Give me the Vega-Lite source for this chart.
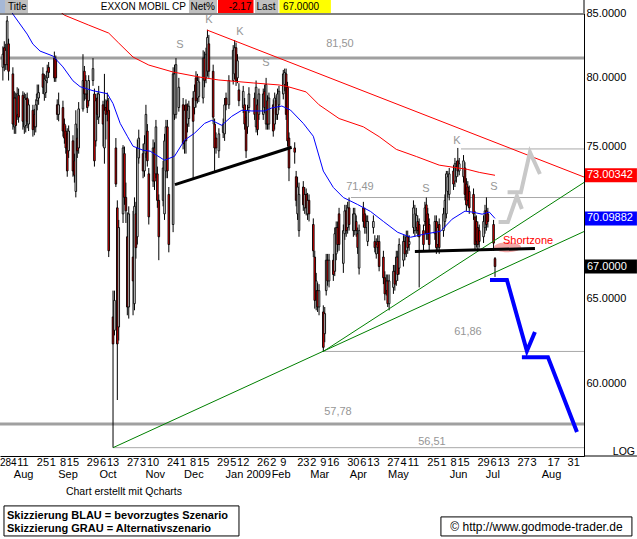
{
"$schema": "https://vega.github.io/schema/vega-lite/v6.json",
"width": 584, "height": 443,
"autosize": {"type": "none"},
"padding": {"left": 0, "top": 13, "right": 53, "bottom": 83},
"background": "white",
"config": {"view": {"stroke": null}, "font": "Liberation Sans", "text": {"font": "Liberation Sans", "fontSize": 11}},
"datasets": {
"px": [
{"d":"2008-07-28","o":80.8,"h":82.4,"l":79.8,"c":81.8},
{"d":"2008-07-29","o":82.3,"h":82.8,"l":80.5,"c":81.0},
{"d":"2008-07-30","o":81.0,"h":82.6,"l":80.6,"c":82.1},
{"d":"2008-07-31","o":81.0,"h":84.8,"l":80.6,"c":84.4},
{"d":"2008-08-01","o":82.6,"h":83.0,"l":79.8,"c":80.5},
{"d":"2008-08-04","o":80.3,"h":80.8,"l":76.2,"c":76.6},
{"d":"2008-08-05","o":76.4,"h":79.0,"l":75.9,"c":78.5},
{"d":"2008-08-06","o":78.5,"h":78.9,"l":75.9,"c":76.5},
{"d":"2008-08-07","o":77.3,"h":79.3,"l":76.9,"c":78.8},
{"d":"2008-08-08","o":78.7,"h":79.2,"l":76.7,"c":77.1},
{"d":"2008-08-11","o":78.7,"h":79.0,"l":76.2,"c":76.8},
{"d":"2008-08-12","o":76.4,"h":78.9,"l":75.9,"c":78.5},
{"d":"2008-08-13","o":76.5,"h":78.8,"l":76.0,"c":78.4},
{"d":"2008-08-14","o":78.5,"h":78.9,"l":76.3,"c":76.8},
{"d":"2008-08-15","o":76.6,"h":78.4,"l":76.1,"c":78.0},
{"d":"2008-08-18","o":77.6,"h":78.0,"l":75.7,"c":76.2},
{"d":"2008-08-19","o":77.3,"h":77.7,"l":75.8,"c":76.4},
{"d":"2008-08-20","o":76.4,"h":78.4,"l":76.0,"c":78.0},
{"d":"2008-08-21","o":78.3,"h":79.5,"l":77.6,"c":78.8},
{"d":"2008-08-22","o":78.5,"h":79.5,"l":78.0,"c":78.9},
{"d":"2008-08-25","o":80.3,"h":80.8,"l":78.8,"c":79.3},
{"d":"2008-08-26","o":78.8,"h":80.3,"l":78.3,"c":79.9},
{"d":"2008-08-27","o":78.9,"h":80.2,"l":78.5,"c":79.8},
{"d":"2008-08-28","o":80.0,"h":81.0,"l":79.6,"c":80.5},
{"d":"2008-08-29","o":80.8,"h":81.2,"l":80.0,"c":80.4},
{"d":"2008-09-02","o":81.5,"h":82.0,"l":79.7,"c":80.0},
{"d":"2008-09-03","o":81.4,"h":81.7,"l":79.7,"c":80.0},
{"d":"2008-09-04","o":78.0,"h":78.4,"l":76.9,"c":77.3},
{"d":"2008-09-05","o":77.3,"h":78.9,"l":76.8,"c":78.0},
{"d":"2008-09-08","o":77.8,"h":78.3,"l":75.7,"c":76.1},
{"d":"2008-09-09","o":76.6,"h":77.0,"l":75.2,"c":75.6},
{"d":"2008-09-10","o":76.1,"h":76.5,"l":74.5,"c":74.9},
{"d":"2008-09-11","o":75.9,"h":76.3,"l":72.9,"c":73.3},
{"d":"2008-09-12","o":74.7,"h":76.5,"l":74.2,"c":76.1},
{"d":"2008-09-15","o":75.4,"h":75.8,"l":72.9,"c":73.3},
{"d":"2008-09-16","o":74.0,"h":74.5,"l":72.5,"c":73.0},
{"d":"2008-09-17","o":71.9,"h":77.6,"l":71.5,"c":76.6},
{"d":"2008-09-18","o":75.6,"h":76.3,"l":74.2,"c":74.7},
{"d":"2008-09-19","o":74.9,"h":78.2,"l":74.5,"c":77.7},
{"d":"2008-09-22","o":77.7,"h":81.8,"l":77.5,"c":79.8},
{"d":"2008-09-23","o":80.5,"h":80.9,"l":78.3,"c":78.8},
{"d":"2008-09-24","o":78.8,"h":80.2,"l":78.4,"c":79.8},
{"d":"2008-09-25","o":78.8,"h":79.1,"l":77.4,"c":77.8},
{"d":"2008-09-26","o":78.3,"h":80.2,"l":77.9,"c":79.8},
{"d":"2008-09-29","o":79.8,"h":81.5,"l":79.4,"c":80.7},
{"d":"2008-09-30","o":78.8,"h":79.2,"l":73.6,"c":74.0},
{"d":"2008-10-01","o":75.4,"h":78.8,"l":75.0,"c":78.3},
{"d":"2008-10-02","o":78.5,"h":78.9,"l":76.9,"c":77.3},
{"d":"2008-10-03","o":77.1,"h":79.4,"l":76.6,"c":78.8},
{"d":"2008-10-06","o":78.0,"h":78.3,"l":75.0,"c":76.6},
{"d":"2008-10-07","o":74.9,"h":80.3,"l":73.8,"c":77.6},
{"d":"2008-10-08","o":77.8,"h":78.4,"l":75.5,"c":77.3},
{"d":"2008-10-09","o":78.3,"h":78.9,"l":76.8,"c":77.5},
{"d":"2008-10-10","o":77.6,"h":78.5,"l":67.6,"c":68.0},
{"d":"2008-10-13","o":63.9,"h":65.5,"l":56.51,"c":62.3},
{"d":"2008-10-14","o":63.1,"h":65.5,"l":62.8,"c":64.9},
{"d":"2008-10-15","o":74.9,"h":75.6,"l":72.2,"c":72.4},
{"d":"2008-10-16","o":70.8,"h":71.3,"l":59.1,"c":62.3},
{"d":"2008-10-17","o":63.3,"h":70.0,"l":62.5,"c":69.5},
{"d":"2008-10-20","o":70.4,"h":75.1,"l":69.8,"c":74.9},
{"d":"2008-10-21","o":74.5,"h":75.0,"l":71.0,"c":71.5},
{"d":"2008-10-22","o":71.5,"h":72.5,"l":69.8,"c":70.6},
{"d":"2008-10-23","o":68.9,"h":70.5,"l":64.0,"c":64.5},
{"d":"2008-10-24","o":64.5,"h":70.9,"l":63.8,"c":70.4},
{"d":"2008-10-27","o":67.6,"h":70.6,"l":64.0,"c":66.1},
{"d":"2008-10-28","o":64.7,"h":71.5,"l":64.3,"c":70.9},
{"d":"2008-10-29","o":70.4,"h":71.2,"l":67.5,"c":68.2},
{"d":"2008-10-30","o":68.9,"h":75.5,"l":68.4,"c":74.9},
{"d":"2008-10-31","o":74.2,"h":76.2,"l":73.8,"c":75.6},
{"d":"2008-11-03","o":74.5,"h":75.2,"l":72.8,"c":73.3},
{"d":"2008-11-04","o":73.3,"h":75.8,"l":72.9,"c":75.2},
{"d":"2008-11-05","o":74.5,"h":78.0,"l":74.2,"c":77.3},
{"d":"2008-11-06","o":76.1,"h":76.6,"l":73.6,"c":74.0},
{"d":"2008-11-07","o":73.1,"h":73.5,"l":69.7,"c":70.2},
{"d":"2008-11-10","o":72.6,"h":75.5,"l":72.2,"c":74.9},
{"d":"2008-11-11","o":74.9,"h":75.3,"l":72.0,"c":72.6},
{"d":"2008-11-12","o":73.1,"h":76.9,"l":72.8,"c":76.4},
{"d":"2008-11-13","o":73.1,"h":73.6,"l":70.8,"c":71.3},
{"d":"2008-11-14","o":71.3,"h":71.7,"l":67.4,"c":68.9},
{"d":"2008-11-17","o":71.3,"h":74.0,"l":70.9,"c":73.5},
{"d":"2008-11-18","o":70.4,"h":75.9,"l":70.0,"c":75.4},
{"d":"2008-11-19","o":73.3,"h":76.9,"l":72.8,"c":76.4},
{"d":"2008-11-20","o":76.4,"h":76.9,"l":72.8,"c":73.3},
{"d":"2008-11-21","o":71.7,"h":72.2,"l":67.9,"c":68.4},
{"d":"2008-11-24","o":69.7,"h":80.8,"l":69.2,"c":80.3},
{"d":"2008-11-25","o":77.3,"h":81.0,"l":76.9,"c":80.3},
{"d":"2008-11-26","o":77.3,"h":81.5,"l":77.0,"c":81.0},
{"d":"2008-11-28","o":77.8,"h":80.0,"l":77.5,"c":79.3},
{"d":"2008-12-01","o":78.0,"h":78.5,"l":74.8,"c":75.2},
{"d":"2008-12-02","o":75.4,"h":78.0,"l":74.5,"c":77.6},
{"d":"2008-12-03","o":78.0,"h":78.4,"l":74.5,"c":75.4},
{"d":"2008-12-04","o":76.6,"h":78.1,"l":76.0,"c":77.6},
{"d":"2008-12-05","o":77.0,"h":78.3,"l":76.4,"c":77.9},
{"d":"2008-12-08","o":78.5,"h":79.0,"l":72.7,"c":76.8},
{"d":"2008-12-09","o":77.8,"h":79.5,"l":77.3,"c":79.0},
{"d":"2008-12-10","o":80.0,"h":80.5,"l":77.8,"c":78.3},
{"d":"2008-12-11","o":78.5,"h":80.3,"l":78.1,"c":79.8},
{"d":"2008-12-12","o":78.6,"h":80.1,"l":78.2,"c":79.7},
{"d":"2008-12-15","o":78.5,"h":82.1,"l":78.1,"c":81.5},
{"d":"2008-12-16","o":81.5,"h":82.0,"l":79.3,"c":79.8},
{"d":"2008-12-17","o":80.0,"h":82.3,"l":79.6,"c":81.8},
{"d":"2008-12-18","o":80.5,"h":83.7,"l":80.1,"c":83.1},
{"d":"2008-12-19","o":82.6,"h":83.3,"l":80.0,"c":80.5},
{"d":"2008-12-22","o":80.5,"h":81.0,"l":76.6,"c":77.1},
{"d":"2008-12-23","o":76.6,"h":77.0,"l":73.3,"c":74.9},
{"d":"2008-12-24","o":75.6,"h":76.0,"l":74.5,"c":74.9},
{"d":"2008-12-26","o":74.7,"h":76.3,"l":74.2,"c":75.9},
{"d":"2008-12-29","o":76.0,"h":77.0,"l":75.6,"c":76.6},
{"d":"2008-12-30","o":75.9,"h":78.5,"l":75.4,"c":78.0},
{"d":"2008-12-31","o":78.5,"h":78.9,"l":77.6,"c":78.0},
{"d":"2009-01-02","o":78.0,"h":80.2,"l":77.7,"c":79.8},
{"d":"2009-01-05","o":79.8,"h":82.5,"l":79.5,"c":82.1},
{"d":"2009-01-06","o":80.3,"h":82.9,"l":79.9,"c":82.3},
{"d":"2009-01-07","o":82.3,"h":82.7,"l":79.4,"c":79.8},
{"d":"2009-01-08","o":80.0,"h":81.8,"l":79.6,"c":81.3},
{"d":"2009-01-09","o":79.1,"h":79.6,"l":77.9,"c":78.3},
{"d":"2009-01-12","o":77.8,"h":79.4,"l":77.4,"c":79.0},
{"d":"2009-01-13","o":78.0,"h":78.5,"l":76.2,"c":76.6},
{"d":"2009-01-14","o":77.1,"h":77.5,"l":74.2,"c":74.7},
{"d":"2009-01-15","o":76.4,"h":78.0,"l":75.9,"c":77.6},
{"d":"2009-01-16","o":77.8,"h":79.3,"l":77.4,"c":78.8},
{"d":"2009-01-20","o":78.5,"h":78.9,"l":76.9,"c":77.3},
{"d":"2009-01-21","o":76.4,"h":79.8,"l":76.0,"c":79.3},
{"d":"2009-01-22","o":78.0,"h":78.4,"l":75.8,"c":76.2},
{"d":"2009-01-23","o":77.3,"h":79.2,"l":76.9,"c":78.8},
{"d":"2009-01-26","o":77.3,"h":79.2,"l":76.9,"c":78.8},
{"d":"2009-01-27","o":79.0,"h":79.5,"l":77.4,"c":77.8},
{"d":"2009-01-28","o":76.6,"h":80.0,"l":76.2,"c":79.5},
{"d":"2009-01-29","o":78.3,"h":78.7,"l":76.2,"c":76.6},
{"d":"2009-01-30","o":76.6,"h":78.9,"l":76.2,"c":78.5},
{"d":"2009-02-02","o":78.0,"h":78.4,"l":75.7,"c":76.1},
{"d":"2009-02-03","o":76.6,"h":78.9,"l":76.2,"c":78.5},
{"d":"2009-02-04","o":78.3,"h":78.7,"l":76.9,"c":77.3},
{"d":"2009-02-05","o":77.3,"h":79.2,"l":76.9,"c":78.8},
{"d":"2009-02-06","o":78.0,"h":79.4,"l":77.6,"c":79.0},
{"d":"2009-02-09","o":78.8,"h":80.6,"l":78.4,"c":80.3},
{"d":"2009-02-10","o":79.5,"h":80.7,"l":79.0,"c":80.4},
{"d":"2009-02-11","o":80.3,"h":80.7,"l":76.9,"c":77.3},
{"d":"2009-02-12","o":79.3,"h":79.7,"l":75.0,"c":75.4},
{"d":"2009-02-13","o":75.6,"h":76.0,"l":72.6,"c":73.5},
{"d":"2009-02-17","o":74.9,"h":75.3,"l":73.8,"c":74.6},
{"d":"2009-02-18","o":72.9,"h":73.3,"l":70.9,"c":71.3},
{"d":"2009-02-19","o":70.4,"h":72.9,"l":70.0,"c":72.2},
{"d":"2009-02-20","o":69.3,"h":72.5,"l":68.9,"c":71.7},
{"d":"2009-02-23","o":72.2,"h":72.6,"l":70.6,"c":71.0},
{"d":"2009-02-24","o":70.8,"h":72.2,"l":70.4,"c":71.7},
{"d":"2009-02-25","o":71.7,"h":72.1,"l":70.3,"c":70.8},
{"d":"2009-02-26","o":70.4,"h":71.8,"l":70.0,"c":71.3},
{"d":"2009-02-27","o":71.3,"h":71.7,"l":69.9,"c":70.4},
{"d":"2009-03-02","o":69.7,"h":70.1,"l":67.6,"c":68.0},
{"d":"2009-03-03","o":67.6,"h":68.0,"l":64.4,"c":64.9},
{"d":"2009-03-04","o":65.5,"h":66.6,"l":64.3,"c":66.1},
{"d":"2009-03-05","o":65.5,"h":66.0,"l":64.2,"c":64.5},
{"d":"2009-03-06","o":64.5,"h":65.9,"l":64.0,"c":65.5},
{"d":"2009-03-09","o":64.2,"h":64.6,"l":61.86,"c":62.1},
{"d":"2009-03-10","o":62.9,"h":64.5,"l":62.4,"c":64.1},
{"d":"2009-03-11","o":65.5,"h":67.8,"l":65.2,"c":67.4},
{"d":"2009-03-12","o":67.4,"h":67.8,"l":65.8,"c":66.1},
{"d":"2009-03-13","o":66.1,"h":67.8,"l":65.7,"c":67.4},
{"d":"2009-03-16","o":67.4,"h":67.8,"l":66.1,"c":66.5},
{"d":"2009-03-17","o":66.7,"h":69.5,"l":66.4,"c":69.1},
{"d":"2009-03-18","o":67.8,"h":69.9,"l":67.4,"c":69.5},
{"d":"2009-03-19","o":69.5,"h":69.9,"l":67.9,"c":68.4},
{"d":"2009-03-20","o":70.4,"h":70.8,"l":68.0,"c":68.4},
{"d":"2009-03-23","o":67.2,"h":69.7,"l":66.6,"c":69.3},
{"d":"2009-03-24","o":69.1,"h":71.0,"l":68.7,"c":70.6},
{"d":"2009-03-25","o":70.6,"h":71.0,"l":68.9,"c":69.3},
{"d":"2009-03-26","o":69.5,"h":71.2,"l":69.1,"c":70.8},
{"d":"2009-03-27","o":70.8,"h":71.49,"l":69.3,"c":69.7},
{"d":"2009-03-30","o":69.3,"h":70.8,"l":68.9,"c":70.4},
{"d":"2009-03-31","o":69.3,"h":70.8,"l":69.0,"c":70.4},
{"d":"2009-04-01","o":69.9,"h":70.3,"l":68.9,"c":69.3},
{"d":"2009-04-02","o":69.1,"h":69.5,"l":67.8,"c":68.2},
{"d":"2009-04-03","o":66.9,"h":69.7,"l":66.5,"c":69.3},
{"d":"2009-04-06","o":70.8,"h":71.2,"l":69.5,"c":69.9},
{"d":"2009-04-07","o":70.4,"h":70.8,"l":69.1,"c":69.5},
{"d":"2009-04-08","o":69.5,"h":70.3,"l":69.1,"c":69.9},
{"d":"2009-04-09","o":68.6,"h":70.3,"l":68.3,"c":69.9},
{"d":"2009-04-13","o":69.5,"h":70.3,"l":69.1,"c":69.9},
{"d":"2009-04-14","o":68.6,"h":69.0,"l":67.9,"c":68.2},
{"d":"2009-04-15","o":67.8,"h":68.8,"l":67.5,"c":68.4},
{"d":"2009-04-16","o":68.6,"h":69.0,"l":67.8,"c":68.2},
{"d":"2009-04-17","o":68.6,"h":69.0,"l":66.7,"c":67.0},
{"d":"2009-04-20","o":67.6,"h":68.0,"l":65.9,"c":66.3},
{"d":"2009-04-21","o":66.3,"h":66.7,"l":64.9,"c":65.3},
{"d":"2009-04-22","o":65.5,"h":66.5,"l":65.2,"c":66.1},
{"d":"2009-04-23","o":66.1,"h":66.5,"l":64.5,"c":64.7},
{"d":"2009-04-24","o":64.7,"h":66.5,"l":64.3,"c":66.1},
{"d":"2009-04-27","o":65.7,"h":67.1,"l":65.3,"c":66.7},
{"d":"2009-04-28","o":66.7,"h":67.1,"l":65.5,"c":65.9},
{"d":"2009-04-29","o":66.1,"h":68.0,"l":65.8,"c":67.6},
{"d":"2009-04-30","o":67.6,"h":68.0,"l":66.1,"c":66.5},
{"d":"2009-05-01","o":66.9,"h":68.8,"l":66.5,"c":68.4},
{"d":"2009-05-04","o":67.4,"h":69.0,"l":67.0,"c":68.6},
{"d":"2009-05-05","o":68.6,"h":69.0,"l":67.4,"c":67.8},
{"d":"2009-05-06","o":68.0,"h":69.3,"l":67.6,"c":68.9},
{"d":"2009-05-07","o":68.9,"h":69.3,"l":67.8,"c":68.2},
{"d":"2009-05-08","o":68.4,"h":69.0,"l":68.0,"c":68.6},
{"d":"2009-05-11","o":69.5,"h":71.3,"l":69.1,"c":70.8},
{"d":"2009-05-12","o":69.3,"h":71.0,"l":68.9,"c":70.4},
{"d":"2009-05-13","o":69.5,"h":70.8,"l":69.1,"c":70.3},
{"d":"2009-05-14","o":69.9,"h":70.3,"l":68.9,"c":69.3},
{"d":"2009-05-15","o":69.7,"h":70.1,"l":65.7,"c":68.9},
{"d":"2009-05-18","o":69.3,"h":69.7,"l":68.0,"c":68.4},
{"d":"2009-05-19","o":69.9,"h":71.2,"l":69.6,"c":70.8},
{"d":"2009-05-20","o":71.0,"h":71.49,"l":68.7,"c":69.1},
{"d":"2009-05-21","o":70.4,"h":70.8,"l":68.7,"c":69.1},
{"d":"2009-05-22","o":69.7,"h":70.1,"l":68.0,"c":68.4},
{"d":"2009-05-26","o":69.1,"h":70.3,"l":68.7,"c":69.9},
{"d":"2009-05-27","o":69.9,"h":70.3,"l":67.8,"c":68.2},
{"d":"2009-05-28","o":68.4,"h":69.9,"l":68.0,"c":69.5},
{"d":"2009-05-29","o":69.7,"h":70.1,"l":67.8,"c":68.2},
{"d":"2009-06-01","o":69.3,"h":70.8,"l":68.9,"c":70.4},
{"d":"2009-06-02","o":69.9,"h":71.7,"l":69.5,"c":71.3},
{"d":"2009-06-03","o":70.4,"h":73.3,"l":70.1,"c":73.1},
{"d":"2009-06-04","o":71.9,"h":73.3,"l":71.5,"c":72.9},
{"d":"2009-06-05","o":71.7,"h":73.5,"l":71.3,"c":73.1},
{"d":"2009-06-08","o":73.3,"h":73.7,"l":72.0,"c":72.4},
{"d":"2009-06-09","o":72.6,"h":74.2,"l":72.2,"c":73.8},
{"d":"2009-06-10","o":72.9,"h":74.0,"l":72.5,"c":73.6},
{"d":"2009-06-11","o":74.0,"h":74.9,"l":72.9,"c":73.3},
{"d":"2009-06-12","o":73.3,"h":74.2,"l":73.0,"c":73.8},
{"d":"2009-06-15","o":72.9,"h":74.4,"l":72.5,"c":74.0},
{"d":"2009-06-16","o":73.5,"h":73.9,"l":71.3,"c":71.7},
{"d":"2009-06-17","o":72.4,"h":72.8,"l":70.6,"c":71.0},
{"d":"2009-06-18","o":72.2,"h":72.6,"l":70.9,"c":71.3},
{"d":"2009-06-19","o":71.9,"h":72.3,"l":70.4,"c":70.8},
{"d":"2009-06-22","o":71.7,"h":72.1,"l":70.0,"c":70.4},
{"d":"2009-06-23","o":70.2,"h":70.6,"l":68.0,"c":68.4},
{"d":"2009-06-24","o":69.9,"h":70.3,"l":68.2,"c":68.6},
{"d":"2009-06-25","o":69.5,"h":69.9,"l":68.0,"c":68.4},
{"d":"2009-06-26","o":69.3,"h":69.7,"l":68.2,"c":68.6},
{"d":"2009-06-29","o":68.9,"h":70.3,"l":68.5,"c":69.9},
{"d":"2009-06-30","o":69.5,"h":71.0,"l":69.1,"c":70.6},
{"d":"2009-07-01","o":70.6,"h":71.5,"l":69.3,"c":69.7},
{"d":"2009-07-02","o":70.4,"h":70.8,"l":69.5,"c":69.9},
{"d":"2009-07-06","o":69.7,"h":70.0,"l":68.0,"c":68.49},
{"d":"2009-07-07","o":67.5,"h":67.6,"l":66.35,"c":67.0}
],
"ma200": [
{"d":"2008-09-01","v":85.6},{"d":"2008-09-09","v":84.86},{"d":"2008-09-26","v":84.07},{"d":"2008-10-10","v":83.44},
{"d":"2008-10-17","v":82.66},{"d":"2008-10-27","v":81.58},{"d":"2008-11-07","v":80.97},{"d":"2008-11-24","v":80.44},
{"d":"2008-12-12","v":80.07},{"d":"2008-12-26","v":79.84},{"d":"2009-01-19","v":79.62},{"d":"2009-02-06","v":79.47},
{"d":"2009-02-13","v":79.32},{"d":"2009-02-25","v":78.95},{"d":"2009-03-06","v":78.0},{"d":"2009-03-20","v":77.0},
{"d":"2009-04-06","v":76.4},{"d":"2009-04-17","v":75.7},{"d":"2009-04-29","v":74.8},{"d":"2009-05-13","v":74.3},
{"d":"2009-05-29","v":73.7},{"d":"2009-06-18","v":73.4},{"d":"2009-06-26","v":73.2},{"d":"2009-07-07","v":73.0}
],
"ma50": [
{"d":"2008-08-01","v":85.6},{"d":"2008-08-04","v":84.94},{"d":"2008-08-14","v":83.36},{"d":"2008-08-18","v":82.58},
{"d":"2008-08-23","v":82.04},{"d":"2008-09-01","v":81.66},{"d":"2008-09-08","v":80.83},{"d":"2008-09-15","v":79.78},
{"d":"2008-09-20","v":79.34},{"d":"2008-09-29","v":79.04},{"d":"2008-10-09","v":78.82},{"d":"2008-10-13","v":78.09},
{"d":"2008-10-18","v":76.65},{"d":"2008-10-23","v":75.73},{"d":"2008-10-27","v":75.02},{"d":"2008-11-03","v":74.74},
{"d":"2008-11-08","v":74.67},{"d":"2008-11-18","v":74.04},{"d":"2008-11-25","v":74.32},{"d":"2008-12-02","v":75.45},
{"d":"2008-12-09","v":75.95},{"d":"2008-12-16","v":76.65},{"d":"2008-12-21","v":76.87},{"d":"2008-12-28","v":76.51},
{"d":"2009-01-04","v":77.16},{"d":"2009-01-11","v":77.6},{"d":"2009-01-18","v":77.55},{"d":"2009-01-27","v":77.55},
{"d":"2009-02-01","v":77.77},{"d":"2009-02-08","v":77.91},{"d":"2009-02-14","v":77.62},{"d":"2009-02-23","v":76.65},
{"d":"2009-03-02","v":75.73},{"d":"2009-03-09","v":73.29},{"d":"2009-03-16","v":72.17},{"d":"2009-03-23","v":71.49},
{"d":"2009-04-02","v":71.02},{"d":"2009-04-11","v":70.56},{"d":"2009-04-20","v":69.9},{"d":"2009-04-30","v":69.19},
{"d":"2009-05-09","v":68.87},{"d":"2009-05-18","v":69.06},{"d":"2009-05-30","v":69.26},{"d":"2009-06-07","v":70.05},
{"d":"2009-06-16","v":70.58},{"d":"2009-06-21","v":70.52},{"d":"2009-06-28","v":70.38},{"d":"2009-07-03","v":70.52},
{"d":"2009-07-07","v":70.1}
],
"boxes": [
{"a":"2008-07-26T00:00:00Z","b":"2008-07-29T12:00:00Z","t":86.08,"u":85.03,"k":"hb"},
{"a":"2008-07-29T12:00:00Z","b":"2008-08-14T14:00:00Z","t":86.08,"u":85.03,"k":"hg"},
{"a":"2008-12-05T02:00:00Z","b":"2008-12-24T16:00:00Z","t":86.08,"u":85.03,"k":"hg"},
{"a":"2008-12-25T09:00:00Z","b":"2009-01-19T05:00:00Z","t":86.08,"u":85.03,"k":"hr"},
{"a":"2009-01-20T05:00:00Z","b":"2009-02-05T14:00:00Z","t":86.08,"u":85.03,"k":"hg"},
{"a":"2009-02-06T07:00:00Z","b":"2009-03-14T07:00:00Z","t":86.08,"u":85.03,"k":"hy"},
{"a":"2009-09-07T22:00:00Z","b":"2009-10-14T05:00:00Z","t":73.48,"u":72.52,"k":"r200"},
{"a":"2009-09-07T22:00:00Z","b":"2009-10-14T05:00:00Z","t":70.56,"u":69.64,"k":"r50"},
{"a":"2009-09-07T22:00:00Z","b":"2009-10-14T05:00:00Z","t":67.44,"u":66.56,"k":"rlast"}
],
"days": [
{"d":"2008-08-11","t":"11"},{"d":"2008-08-25","t":"25"},{"d":"2008-09-01","t":"1"},
{"d":"2008-09-08","t":"8"},{"d":"2008-09-15","t":"15"},{"d":"2008-09-29","t":"29"},{"d":"2008-10-06","t":"6"},
{"d":"2008-10-13","t":"13"},{"d":"2008-10-27","t":"27"},{"d":"2008-11-03","t":"3"},{"d":"2008-11-10","t":"10"},
{"d":"2008-11-24","t":"24"},{"d":"2008-12-01","t":"1"},{"d":"2008-12-08","t":"8"},{"d":"2008-12-15","t":"15"},
{"d":"2008-12-29","t":"29"},{"d":"2009-01-05","t":"5"},{"d":"2009-01-12","t":"12"},{"d":"2009-01-26","t":"26"},
{"d":"2009-02-02","t":"2"},{"d":"2009-02-09","t":"9"},{"d":"2009-02-23","t":"23"},{"d":"2009-03-02","t":"2"},
{"d":"2009-03-09","t":"9"},{"d":"2009-03-16","t":"16"},{"d":"2009-03-30","t":"30"},{"d":"2009-04-06","t":"6"},
{"d":"2009-04-13","t":"13"},{"d":"2009-04-27","t":"27"},{"d":"2009-05-04","t":"4"},{"d":"2009-05-11","t":"11"},
{"d":"2009-05-25","t":"25"},{"d":"2009-06-01","t":"1"},{"d":"2009-06-08","t":"8"},{"d":"2009-06-15","t":"15"},
{"d":"2009-06-29","t":"29"},{"d":"2009-07-06","t":"6"},{"d":"2009-07-13","t":"13"},{"d":"2009-07-27","t":"27"},
{"d":"2009-08-03","t":"3"},{"d":"2009-08-17","t":"17"},{"d":"2009-08-31","t":"31"}
],
"months": [
{"d":"2008-08-11T12:00:00Z","t":"Aug"},{"d":"2008-09-11T12:00:00Z","t":"Sep"},{"d":"2008-10-09T12:00:00Z","t":"Oct"},
{"d":"2008-11-11T12:00:00Z","t":"Nov"},{"d":"2008-12-08T12:00:00Z","t":"Dec"},{"d":"2009-01-15T12:00:00Z","t":"Jan 2009"},
{"d":"2009-02-07T12:00:00Z","t":"Feb"},{"d":"2009-03-06T12:00:00Z","t":"Mar"},{"d":"2009-04-02T12:00:00Z","t":"Apr"},
{"d":"2009-04-30T12:00:00Z","t":"May"},{"d":"2009-06-11T12:00:00Z","t":"Jun"},{"d":"2009-07-05T12:00:00Z","t":"Jul"},
{"d":"2009-08-15T12:00:00Z","t":"Aug"}
]
},
"layer": [
{"data":{"name":"boxes"},"mark":{"type":"rect"},
 "encoding":{"x":{"field":"a","type":"temporal","title":null},"x2":{"field":"b"},
  "y":{"field":"t","type":"quantitative","title":null},"y2":{"field":"u"},
  "color":{"field":"k","type":"nominal","legend":null,
   "scale":{"domain":["hb","hg","hr","hy","r200","r50","rlast"],"range":["#a6b8d6","#c0c0c0","#ff0000","#ffff00","#ff0000","#0000ff","#000000"]}}}},
{"data":{"values":[{"v":81.5},{"v":57.78}]},"mark":{"type":"rule","color":"#a0a0a0","strokeWidth":3},
 "encoding":{"y":{"field":"v","type":"quantitative","title":null}}},
{"data":{"values":[
 {"d":"2009-06-13T05:00:00Z","e":"2009-09-07T05:00:00Z","v":74.83},
 {"d":"2009-03-28T07:00:00Z","e":"2009-09-07T05:00:00Z","v":71.49},
 {"d":"2009-03-08T01:00:00Z","e":"2009-09-07T05:00:00Z","v":61.86},
 {"d":"2008-10-13T00:00:00Z","e":"2009-09-07T05:00:00Z","v":56.51}]},
 "mark":{"type":"rule","color":"#a8a8a8","strokeWidth":1},
 "encoding":{"x":{"field":"d","type":"temporal","title":null},"x2":{"field":"e"},"y":{"field":"v","type":"quantitative","title":null}}},
{"data":{"values":[{"d":"2009-07-15T19:00:00Z","v":68.22}]},
 "mark":{"type":"point","shape":"M-1,0A1,0.37,0,1,0,1,0A1,0.37,0,1,0,-1,0Z","size":729,"filled":true,"color":"#f4a8a8","opacity":1},
 "encoding":{"x":{"field":"d","type":"temporal","title":null},"y":{"field":"v","type":"quantitative","title":null}}},
{"data":{"name":"px"},"mark":{"type":"rule","color":"#000000","strokeWidth":1},
 "encoding":{
  "x":{"field":"d","type":"temporal","title":null,
   "scale":{"type":"utc","domain":[{"year":2008,"month":7,"date":26,"utc":true},{"year":2009,"month":9,"date":7,"hours":5,"utc":true}],"nice":false,"padding":0},
   "axis":{"orient":"bottom","title":null,"grid":false,"ticks":false,"labels":false,"domainColor":"#000000","domainWidth":1}},
  "y":{"field":"l","type":"quantitative","title":null,
   "scale":{"type":"log","domain":[56.07,85.03],"nice":false,"zero":false,"padding":0},
   "axis":{"orient":"right","title":null,"grid":false,"ticks":false,"domainColor":"#000000","domainWidth":1,
    "labelFont":"Liberation Sans","labelFontSize":11,"labelColor":"#000000","labelPadding":2,"labelOverlap":false,"labelFlush":false,"labelBound":false,
    "values":[60,65,75,80,85],"format":".4f"}},
  "y2":{"field":"h"}}},
{"data":{"name":"px"},"mark":{"type":"bar","width":1.6,"stroke":"#000000","strokeWidth":0.9},
 "encoding":{"x":{"field":"d","type":"temporal","title":null},"y":{"field":"o","type":"quantitative","title":null},"y2":{"field":"c"},
  "fill":{"condition":{"test":"datum.c < datum.o","value":"#ff0000"},"value":"#ffffff"}}},
{"data":{"name":"ma200"},"mark":{"type":"line","color":"#ff0000","strokeWidth":1,"clip":true},
 "encoding":{"x":{"field":"d","type":"temporal","title":null},"y":{"field":"v","type":"quantitative","title":null}}},
{"data":{"name":"ma50"},"mark":{"type":"line","color":"#0000ff","strokeWidth":1,"clip":true},
 "encoding":{"x":{"field":"d","type":"temporal","title":null},"y":{"field":"v","type":"quantitative","title":null}}},
{"data":{"values":[{"d":"2008-12-17T16:00:00Z","v":83.68},{"d":"2009-09-07T05:00:00Z","v":72.88}]},
 "mark":{"type":"line","color":"#ff0000","strokeWidth":1},
 "encoding":{"x":{"field":"d","type":"temporal","title":null},"y":{"field":"v","type":"quantitative","title":null}}},
{"data":{"values":[{"id":"g1","d":"2008-10-13","v":56.51},{"id":"g1","d":"2009-09-07T05:00:00Z","v":69.24},
  {"id":"g2","d":"2009-03-09","v":61.86},{"id":"g2","d":"2009-09-07T05:00:00Z","v":72.51}]},
 "mark":{"type":"line","color":"#008000","strokeWidth":1},
 "encoding":{"x":{"field":"d","type":"temporal","title":null},"y":{"field":"v","type":"quantitative","title":null},"detail":{"field":"id"}}},
{"data":{"values":[{"id":"b1","d":"2008-11-25T07:00:00Z","v":72.36},{"id":"b1","d":"2009-02-14T21:00:00Z","v":74.95},
  {"id":"b2","d":"2009-05-12","v":67.95},{"id":"b2","d":"2009-08-03T22:00:00Z","v":68.15}]},
 "mark":{"type":"line","color":"#000000","strokeWidth":3},
 "encoding":{"x":{"field":"d","type":"temporal","title":null},"y":{"field":"v","type":"quantitative","title":null},"detail":{"field":"id"}}},
{"data":{"values":[{"id":"p1","d":"2009-07-03T12:00:00Z","v":66.16},{"id":"p1","d":"2009-07-15T08:00:00Z","v":66.16},
  {"id":"p1","d":"2009-07-29T07:00:00Z","v":61.89},{"id":"p1","d":"2009-08-03T22:00:00Z","v":63.0},
  {"id":"p2","d":"2009-07-25T19:00:00Z","v":61.53},{"id":"p2","d":"2009-08-13T00:00:00Z","v":61.53},{"id":"p2","d":"2009-09-02T07:00:00Z","v":57.35}]},
 "mark":{"type":"line","color":"#0000ff","strokeWidth":4},
 "encoding":{"x":{"field":"d","type":"temporal","title":null},"y":{"field":"v","type":"quantitative","title":null},"detail":{"field":"id"}}},
{"data":{"values":[{"id":"q1","d":"2009-07-09T12:00:00Z","v":69.86},{"id":"q1","d":"2009-07-16T00:00:00Z","v":69.86},
  {"id":"q1","d":"2009-07-22T07:00:00Z","v":71.59},{"id":"q1","d":"2009-07-25T19:00:00Z","v":70.72},
  {"id":"q2","d":"2009-07-15T19:00:00Z","v":71.84},{"id":"q2","d":"2009-07-25T02:00:00Z","v":71.84},
  {"id":"q2","d":"2009-07-31T10:00:00Z","v":74.6},{"id":"q2","d":"2009-08-07T10:00:00Z","v":73.09}]},
 "mark":{"type":"line","color":"#c8c8c8","strokeWidth":4},
 "encoding":{"x":{"field":"d","type":"temporal","title":null},"y":{"field":"v","type":"quantitative","title":null},"detail":{"field":"id"}}},
{"data":{"values":[
  {"d":"2008-11-28T19:00:00Z","v":82.51,"t":"S"},{"d":"2008-12-19T02:00:00Z","v":84.47,"t":"K"},
  {"d":"2009-01-09T17:00:00Z","v":83.52,"t":"K"},{"d":"2009-01-27T22:00:00Z","v":81.13,"t":"S"},
  {"d":"2009-05-19T17:00:00Z","v":72.07,"t":"S"},{"d":"2009-06-10T10:00:00Z","v":75.39,"t":"K"},
  {"d":"2009-07-06T07:00:00Z","v":72.23,"t":"S"},{"d":"2009-03-20T15:00:00Z","v":82.59,"t":"81,50"},
  {"d":"2009-04-03T14:00:00Z","v":72.23,"t":"71,49"},{"d":"2009-06-18T02:00:00Z","v":63.0,"t":"61,86"},
  {"d":"2009-03-19T05:00:00Z","v":58.44,"t":"57,78"},{"d":"2009-05-23T22:00:00Z","v":56.83,"t":"56,51"}]},
 "mark":{"type":"text","color":"#969696","fontSize":11,"align":"center","baseline":"middle"},
 "encoding":{"x":{"field":"d","type":"temporal","title":null},"y":{"field":"v","type":"quantitative","title":null},"text":{"field":"t"}}},
{"data":{"values":[{"d":"2009-07-12T14:00:00Z","v":68.63,"t":"Shortzone"}]},
 "mark":{"type":"text","color":"#ff0000","fontSize":11,"align":"left","baseline":"middle"},
 "encoding":{"x":{"field":"d","type":"temporal","title":null},"y":{"field":"v","type":"quantitative","title":null},"text":{"field":"t"}}},
{"data":{"values":[{"d":"2008-07-31T14:00:00Z","v":85.55,"t":"Title"},{"d":"2008-12-06T03:00:00Z","v":85.55,"t":"Net%"},
  {"d":"2009-01-21T07:00:00Z","v":85.55,"t":"Last"},{"d":"2009-02-08T19:00:00Z","v":85.55,"t":"67.0000"}]},
 "mark":{"type":"text","color":"#000000","fontSize":10,"align":"left","baseline":"middle"},
 "encoding":{"x":{"field":"d","type":"temporal","title":null},"y":{"field":"v","type":"quantitative","title":null},"text":{"field":"t"}}},
{"data":{"values":[{"d":"2008-12-03T00:00:00Z","v":85.55,"t":"EXXON MOBIL CP"},{"d":"2009-01-17T19:00:00Z","v":85.55,"t":"-2.17"}]},
 "mark":{"type":"text","color":"#000000","fontSize":10,"align":"right","baseline":"middle"},
 "encoding":{"x":{"field":"d","type":"temporal","title":null},"y":{"field":"v","type":"quantitative","title":null},"text":{"field":"t"}}},
{"data":{"values":[{"d":"2009-09-09T07:00:00Z","v":73.0,"t":"73.00342"},{"d":"2009-09-09T07:00:00Z","v":70.1,"t":"70.09882"},
  {"d":"2009-09-09T07:00:00Z","v":67.0,"t":"67.0000"}]},
 "mark":{"type":"text","color":"#ffffff","fontSize":11,"align":"left","baseline":"middle"},
 "encoding":{"x":{"field":"d","type":"temporal","title":null},"y":{"field":"v","type":"quantitative","title":null},"text":{"field":"t"}}},
{"data":{"name":"days"},
 "mark":{"type":"text","color":"#000000","fontSize":11,"align":"center","baseline":"alphabetic"},
 "encoding":{"x":{"field":"d","type":"temporal","title":null},"y":{"datum":55.53,"type":"quantitative"},"text":{"field":"t"}}},
{"data":{"values":[{"d":"2008-07-28","t":"28"}]},
 "mark":{"type":"text","color":"#000000","fontSize":10,"align":"center","baseline":"alphabetic","dx":2.65},
 "encoding":{"x":{"field":"d","type":"temporal","title":null},"y":{"datum":55.53,"type":"quantitative"},"text":{"field":"t"}}},
{"data":{"values":[{"d":"2008-08-04","t":"4"}]},
 "mark":{"type":"text","color":"#000000","fontSize":10,"align":"center","baseline":"alphabetic","dx":1},
 "encoding":{"x":{"field":"d","type":"temporal","title":null},"y":{"datum":55.53,"type":"quantitative"},"text":{"field":"t"}}},
{"data":{"name":"months"},
 "mark":{"type":"text","color":"#000000","fontSize":11,"align":"center","baseline":"alphabetic"},
 "encoding":{"x":{"field":"d","type":"temporal","title":null},"y":{"datum":54.93,"type":"quantitative"},"text":{"field":"t"}}},
{"data":{"values":[{"a":"2008-07-28T19:00:00Z","b":"2009-01-09T01:00:00Z","t":53.5,"u":52.01},
  {"a":"2009-05-30T05:00:00Z","b":"2009-10-10T17:00:00Z","t":52.95,"u":52.01}]},
 "mark":{"type":"rect","fill":"#ffffff","stroke":"#000000","strokeWidth":1},
 "encoding":{"x":{"field":"a","type":"temporal","title":null},"x2":{"field":"b"},"y":{"field":"t","type":"quantitative","title":null},"y2":{"field":"u"}}},
{"data":{"values":[{"d":"2008-07-30T22:00:00Z","v":53.0,"t":"Skizzierung BLAU = bevorzugtes Szenario"},
  {"d":"2008-07-30T22:00:00Z","v":52.35,"t":"Skizzierung GRAU = Alternativszenario"}]},
 "mark":{"type":"text","color":"#000000","fontSize":11,"fontWeight":"bold","align":"left","baseline":"middle"},
 "encoding":{"x":{"field":"d","type":"temporal","title":null},"y":{"field":"v","type":"quantitative","title":null},"text":{"field":"t"}}},
{"data":{"values":[{"d":"2008-10-20T16:00:00Z","v":54.21,"t":"Chart erstellt mit Qcharts"},{"d":"2009-10-05T02:00:00Z","v":56.28,"t":"LOG"}]},
 "mark":{"type":"text","color":"#000000","fontSize":10.5,"align":"center","baseline":"middle"},
 "encoding":{"x":{"field":"d","type":"temporal","title":null},"y":{"field":"v","type":"quantitative","title":null},"text":{"field":"t"}}},
{"data":{"values":[{"d":"2009-08-04T23:00:00Z","v":52.45,"t":"© http://www.godmode-trader.de"}]},
 "mark":{"type":"text","color":"#000000","fontSize":12,"align":"center","baseline":"middle"},
 "encoding":{"x":{"field":"d","type":"temporal","title":null},"y":{"field":"v","type":"quantitative","title":null},"text":{"field":"t"}}},
{"data":{"values":[{"v":84.95}]},"mark":{"type":"rule","color":"#000000","strokeWidth":1},
 "encoding":{"y":{"field":"v","type":"quantitative","title":null}}},
{"data":{"values":[{"d":"2009-09-07T05:00:00Z","e":"2009-10-14T05:00:00Z","v":56.07}]},
 "mark":{"type":"rule","color":"#000000","strokeWidth":1},
 "encoding":{"x":{"field":"d","type":"temporal","title":null},"x2":{"field":"e"},"y":{"field":"v","type":"quantitative","title":null}}},
{"data":{"values":[{"d":"2009-09-07T05:00:00Z","w":86.08,"z":85.03}]},
 "mark":{"type":"rule","color":"#000000","strokeWidth":1},
 "encoding":{"x":{"field":"d","type":"temporal","title":null},"y":{"field":"w","type":"quantitative","title":null},"y2":{"field":"z"}}}
]
}
